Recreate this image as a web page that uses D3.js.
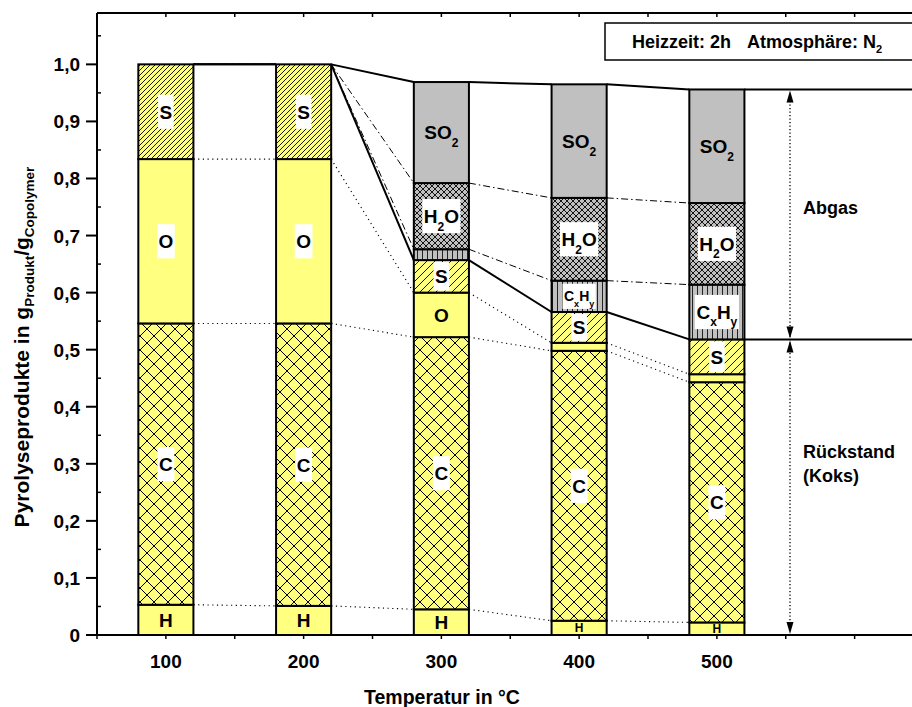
<!DOCTYPE html>
<html><head><meta charset="utf-8">
<script src="https://cdn.jsdelivr.net/npm/d3@7"></script>
<style>
body{margin:0;background:#fff}
svg{display:block}
text{font-family:"Liberation Sans",Arial,sans-serif;font-weight:bold;fill:#000}
</style>
</head><body>
<svg id="chart" width="912" height="707"></svg>
<script>
// ---------------- data ----------------
const temperatures = [100, 200, 300, 400, 500];
const components   = ["H", "C", "O", "S", "CxHy", "H2O", "SO2"];
const valH    = [0.053, 0.051, 0.045, 0.025, 0.022];
const valC    = [0.493, 0.495, 0.477, 0.473, 0.421];
const valO    = [0.288, 0.288, 0.078, 0.014, 0.014];
const valS    = [0.166, 0.166, 0.057, 0.054, 0.061];
const valCxHy = [0.000, 0.000, 0.019, 0.055, 0.096];
const valH2O  = [0.000, 0.000, 0.116, 0.145, 0.143];
const valSO2  = [0.000, 0.000, 0.177, 0.199, 0.199];
const yTickValues = [0, 0.1, 0.2, 0.3, 0.4, 0.5, 0.6, 0.7, 0.8, 0.9, 1.0];
const yTickLabels = ["0", "0,1", "0,2", "0,3", "0,4", "0,5", "0,6", "0,7", "0,8", "0,9", "1,0"];
const xTickValues = [100, 200, 300, 400, 500];
const xTickLabels = ["100", "200", "300", "400", "500"];
const legendText1 = "Heizzeit: 2h";
const legendText2 = "Atmosphäre: N";
const xTitle = "Temperatur in °C";
const gasLabel = "Abgas";
const residueLabel = ["Rückstand", "(Koks)"];

// ---------------- build ----------------
const seriesByComp = {H: valH, C: valC, O: valO, S: valS, CxHy: valCxHy, H2O: valH2O, SO2: valSO2};
const table = temperatures.map((t, i) => {
  const row = {temp: t};
  components.forEach(c => row[c] = seriesByComp[c][i]);
  return row;
});
const stacked = d3.stack().keys(components)(table);

const svg = d3.select("#chart");
const W = 912, H = 707;
const x = d3.scaleLinear().domain([50, 650]).range([97, 923.5]);
const y = d3.scaleLinear().domain([0, 1.09]).range([635, 13]);
const barHalf = 20; // in temperature units
const bx0 = t => x(t - barHalf), bx1 = t => x(t + barHalf);

const YEL = "#ffff80", GRAY = "#c0c0c0";
const defs = svg.append("defs");
function hatchPattern(id, s) {
  const q = defs.append("pattern").attr("id", id).attr("patternUnits", "userSpaceOnUse").attr("width", s).attr("height", s);
  q.append("rect").attr("width", s).attr("height", s).attr("fill", YEL);
  q.append("path").attr("d", `M0,${s}L${s},0M-1,1L1,-1M${s - 1},${s + 1}L${s + 1},${s - 1}`).attr("stroke", "#000").attr("stroke-width", 0.9);
}
hatchPattern("pS", 5);
hatchPattern("pS2", 8);
let p = defs.append("pattern").attr("id", "pC").attr("patternUnits", "userSpaceOnUse").attr("width", 14).attr("height", 14);
p.append("rect").attr("width", 14).attr("height", 14).attr("fill", YEL);
p.append("path").attr("d", "M0,0L14,14M14,0L0,14").attr("stroke", "#000").attr("stroke-width", 1);
p = defs.append("pattern").attr("id", "pW").attr("patternUnits", "userSpaceOnUse").attr("width", 6).attr("height", 6);
p.append("rect").attr("width", 6).attr("height", 6).attr("fill", GRAY);
p.append("path").attr("d", "M0,0L6,6M6,0L0,6").attr("stroke", "#000").attr("stroke-width", 0.9);
p = defs.append("pattern").attr("id", "pV").attr("patternUnits", "userSpaceOnUse").attr("width", 5).attr("height", 5);
p.append("rect").attr("width", 5).attr("height", 5).attr("fill", GRAY);
p.append("path").attr("d", "M2.5,0V5").attr("stroke", "#222").attr("stroke-width", 1);

const fills = {H: YEL, C: "url(#pC)", O: YEL, S: "url(#pS)", CxHy: "url(#pV)", H2O: "url(#pW)", SO2: GRAY};
const labelParts = {
  H: [["H", 0]], C: [["C", 0]], O: [["O", 0]], S: [["S", 0]],
  CxHy: [["C", 0], ["x", 1], ["H", 0], ["y", 1]],
  H2O: [["H", 0], ["2", 1], ["O", 0]],
  SO2: [["SO", 0], ["2", 1]]
};
const labelBox = {H: false, C: true, O: true, S: true, CxHy: true, H2O: true, SO2: false};
const hasGas = i => valSO2[i] > 0;

// ---------------- connector lines ----------------
const lineStyle = {H: "dot", C: "dot", O: "dot", S: "solid", CxHy: "dashdot", H2O: "dashdot", SO2: "solid"};
const order = ["dot", "dashdot", "solid"];
const gl = svg.append("g");
order.forEach(style => {
  stacked.forEach(layer => {
    if (lineStyle[layer.key] !== style) return;
    for (let i = 0; i < temperatures.length - 1; i++) {
      const ln = gl.append("line")
        .attr("x1", bx1(temperatures[i])).attr("y1", y(layer[i][1]))
        .attr("x2", bx0(temperatures[i + 1])).attr("y2", y(layer[i + 1][1]))
        .attr("stroke", "#000");
      if (style === "dot") ln.attr("stroke-width", 1.1).attr("stroke-dasharray", "1.2,3.5");
      else if (style === "dashdot") ln.attr("stroke-width", 1).attr("stroke-dasharray", "7,3,1.5,3");
      else ln.attr("stroke-width", 2);
    }
  });
});
const last = temperatures.length - 1;
["S", "SO2"].forEach(k => {
  const layer = stacked.find(l => l.key === k);
  gl.append("line").attr("x1", bx1(temperatures[last])).attr("x2", W)
    .attr("y1", y(layer[last][1])).attr("y2", y(layer[last][1]))
    .attr("stroke", "#000").attr("stroke-width", 2);
});

// ---------------- bars ----------------
const gb = svg.append("g");
stacked.forEach(layer => {
  layer.forEach((d, i) => {
    if (d[1] - d[0] <= 0) return;
    let f = fills[layer.key];
    if (layer.key === "S" && hasGas(i)) f = "url(#pS2)";
    gb.append("rect")
      .attr("x", bx0(temperatures[i])).attr("width", bx1(temperatures[i]) - bx0(temperatures[i]))
      .attr("y", y(d[1])).attr("height", y(d[0]) - y(d[1]))
      .attr("fill", f).attr("stroke", "#000").attr("stroke-width", 2);
  });
});

// ---------------- segment labels ----------------
const glab = svg.append("g");
stacked.forEach(layer => {
  layer.forEach((d, i) => {
    const segPx = y(d[0]) - y(d[1]);
    if (segPx < 12) return;
    const k = layer.key;
    let fs = 19;
    if (k === "CxHy") fs = segPx >= 40 ? 19 : 14;
    else if (segPx < 20) fs = 12;
    const cx = x(temperatures[i]);
    const cy = (y(d[0]) + y(d[1])) / 2;
    const g = glab.append("g");
    const t = g.append("text").attr("x", cx).attr("y", cy + fs * 0.36).attr("text-anchor", "middle").style("font-size", fs + "px");
    let sub = false;
    labelParts[k].forEach(([s, isSub]) => {
      const ts = t.append("tspan").text(s);
      if (isSub && !sub) { ts.attr("dy", fs * 0.4).style("font-size", Math.round(fs * 0.62) + "px"); sub = true; }
      else if (!isSub && sub) { ts.attr("dy", -fs * 0.4); sub = false; }
      else if (isSub) ts.style("font-size", Math.round(fs * 0.62) + "px");
    });
    if (labelBox[k] && !(k === "O" && segPx < 60)) {
      const bb = t.node().getBBox();
      const bh = Math.min(fs * 1.8, segPx - 4);
      g.insert("rect", "text").attr("x", cx - bb.width / 2 - 1.5).attr("width", bb.width + 3)
        .attr("y", cy - bh / 2).attr("height", bh).attr("fill", "#fff");
    }
  });
});

// ---------------- axes ----------------
const ga = svg.append("g");
ga.append("path").attr("d", `M97,13V635H${W}M97,13H${W}`).attr("fill", "none").attr("stroke", "#000").attr("stroke-width", 2);
yTickValues.forEach((v, i) => {
  ga.append("line").attr("x1", 86).attr("x2", 97).attr("y1", y(v)).attr("y2", y(v)).attr("stroke", "#000").attr("stroke-width", 2);
  ga.append("text").attr("x", 80).attr("y", y(v) + 7).attr("text-anchor", "end").style("font-size", "19px").text(yTickLabels[i]);
});
d3.range(0.05, 1.09, 0.1).forEach(v => {
  ga.append("line").attr("x1", 97).attr("x2", 101).attr("y1", y(v)).attr("y2", y(v)).attr("stroke", "#000").attr("stroke-width", 1.5);
});
d3.range(50, 651, 50).forEach(v => {
  ga.append("line").attr("x1", x(v)).attr("x2", x(v)).attr("y1", 635).attr("y2", 639).attr("stroke", "#000").attr("stroke-width", 1.5);
  ga.append("line").attr("x1", x(v)).attr("x2", x(v)).attr("y1", 13).attr("y2", 17).attr("stroke", "#000").attr("stroke-width", 1.5);
});
xTickValues.forEach((v, i) => {
  ga.append("text").attr("x", x(v)).attr("y", 668).attr("text-anchor", "middle").style("font-size", "19px").text(xTickLabels[i]);
});
ga.append("text").attr("x", 442).attr("y", 704).attr("text-anchor", "middle").style("font-size", "19.5px").text(xTitle);
const yt = ga.append("text").attr("transform", "translate(29,347) rotate(-90)").attr("text-anchor", "middle").style("font-size", "21px");
yt.append("tspan").text("Pyrolyseprodukte in g");
yt.append("tspan").text("Produkt").attr("dy", 5).style("font-size", "13.5px");
yt.append("tspan").text("/g").attr("dy", -5);
yt.append("tspan").text("Copolymer").attr("dy", 5).style("font-size", "13.5px");

// ---------------- legend box ----------------
ga.append("rect").attr("x", 605).attr("y", 23).attr("width", 320).attr("height", 37).attr("fill", "#fff").attr("stroke", "#000").attr("stroke-width", 1.5);
const lt = ga.append("text").attr("x", 632).attr("y", 48).style("font-size", "18px");
lt.append("tspan").text(legendText1);
lt.append("tspan").attr("dx", 16).text(legendText2);
lt.append("tspan").text("2").attr("dy", 5).style("font-size", "11px");

// ---------------- right annotation ----------------
const xa = 790;
const topV = stacked.find(l => l.key === "SO2")[last][1];
const midV = stacked.find(l => l.key === "S")[last][1];
ga.append("line").attr("x1", xa).attr("x2", xa).attr("y1", y(topV) + 8).attr("y2", y(0) - 8)
  .attr("stroke", "#000").attr("stroke-width", 1.3).attr("stroke-dasharray", "1.3,2.2");
const arrow = (tipY, dir) => {
  ga.append("path").attr("d", `M${xa},${tipY}L${xa - 3.5},${tipY + dir * 12}L${xa + 3.5},${tipY + dir * 12}Z`).attr("fill", "#000");
};
arrow(y(topV) + 1, 1);
arrow(y(midV) - 1, -1);
arrow(y(midV) + 1, 1);
arrow(y(0) - 1, -1);
ga.append("text").attr("x", 803).attr("y", 214).style("font-size", "18px").text(gasLabel);
ga.append("text").attr("x", 803).attr("y", 458).style("font-size", "18px").text(residueLabel[0]);
ga.append("text").attr("x", 803).attr("y", 482).style("font-size", "18px").text(residueLabel[1]);
</script>
</body></html>
